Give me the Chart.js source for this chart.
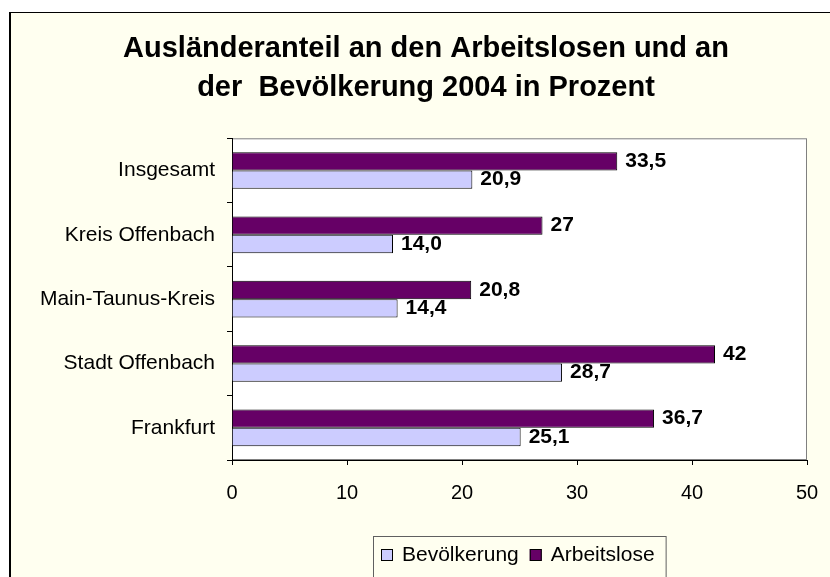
<!DOCTYPE html>
<html>
<head>
<meta charset="utf-8">
<script src="https://cdn.jsdelivr.net/npm/chart.js@4"></script>
<style>
  body { margin: 0; background: #fff; }
  #frame {
    position: absolute; left: 9px; top: 12px; width: 830px; height: 577px;
    border-left: 2px solid #000; border-top: 1px solid #000;
    background: #FFFFF0;
  }
  #chart { position: absolute; left: 0; top: 0; }
</style>
</head>
<body>
<div id="frame"><canvas id="chart" width="819" height="564"></canvas></div>
<script>
const regions = ['Insgesamt', 'Kreis Offenbach', 'Main-Taunus-Kreis', 'Stadt Offenbach', 'Frankfurt'];
const arbeitslose = [33.5, 27, 20.8, 42, 36.7];
const bevoelkerung = [20.9, 14.0, 14.4, 28.7, 25.1];
const bevoelkerungLabels = ['20,9', '14,0', '14,4', '28,7', '25,1'];
const arbeitsloseLabels = ['33,5', '27', '20,8', '42', '36,7'];
const xTicks = [0, 10, 20, 30, 40, 50];

const FONT = 'Arial, "Liberation Sans", sans-serif';

// white plot area with grey frame on top/right
const plotArea = {
    id: 'plotArea',
    afterLayout(chart) {
        // title sits a little right of the canvas centre in the original
        if (chart.titleBlock) { chart.titleBlock.left += 7; chart.titleBlock.right += 7; }
    },
    beforeDraw(chart) {
        const a = chart.chartArea, ctx = chart.ctx;
        ctx.save();
        ctx.fillStyle = '#fff';
        ctx.fillRect(a.left, a.top, a.right - a.left, a.bottom - a.top);
        ctx.strokeStyle = '#808080';
        ctx.lineWidth = 1;
        ctx.strokeRect(a.left + 0.5, a.top + 0.5, a.right - a.left - 1, a.bottom - a.top - 1);
        ctx.restore();
    }
};

// value labels at the end of each bar
const valueLabels = {
    id: 'valueLabels',
    afterDatasetsDraw(chart) {
        const ctx = chart.ctx;
        ctx.save();
        ctx.font = 'bold 21px ' + FONT;
        ctx.fillStyle = '#000';
        ctx.textBaseline = 'middle';
        chart.data.datasets.forEach((ds, i) => {
            chart.getDatasetMeta(i).data.forEach((bar, j) => {
                ctx.fillText(ds.valueLabels[j], bar.x + 8, bar.y);
            });
        });
        ctx.restore();
    }
};

// legend box under the plot (Bevölkerung first)
const boxLegend = {
    id: 'boxLegend',
    afterDraw(chart) {
        const ctx = chart.ctx, a = chart.chartArea;
        const items = [chart.data.datasets[1], chart.data.datasets[0]];
        ctx.save();
        ctx.font = '21px ' + FONT;
        const sq = 12, gapSq = 9, gapItem = 11, pad = 8;
        let w = pad;
        items.forEach(it => { w += sq + gapSq + ctx.measureText(it.label).width + gapItem; });
        const left = Math.round((a.left + a.right) / 2 - w / 2);
        const top = a.bottom + 76;
        ctx.strokeStyle = '#606060';
        ctx.lineWidth = 1;
        ctx.strokeRect(left + 0.5, top + 0.5, w, 80);
        let x = left + pad;
        const cy = top + 19;
        ctx.textBaseline = 'middle';
        items.forEach(it => {
            ctx.fillStyle = it.backgroundColor;
            ctx.fillRect(x, cy - 6, sq, sq);
            ctx.strokeStyle = '#000';
            ctx.strokeRect(x + 0.5, cy - 5.5, sq - 1, sq - 1);
            x += sq + gapSq;
            ctx.fillStyle = '#000';
            ctx.fillText(it.label, x, cy);
            x += ctx.measureText(it.label).width + gapItem;
        });
        ctx.restore();
    }
};

new Chart(document.getElementById('chart'), {
    type: 'bar',
    data: {
        labels: regions,
        datasets: [
            {
                label: 'Arbeitslose',
                data: arbeitslose,
                valueLabels: arbeitsloseLabels,
                backgroundColor: '#660066',
                borderColor: '#000',
                borderWidth: 1,
                barPercentage: 1,
                categoryPercentage: 0.57
            },
            {
                label: 'Bevölkerung',
                data: bevoelkerung,
                valueLabels: bevoelkerungLabels,
                backgroundColor: '#CCCCFF',
                borderColor: '#000',
                borderWidth: 1,
                barPercentage: 1,
                categoryPercentage: 0.57
            }
        ]
    },
    options: {
        indexAxis: 'y',
        responsive: false,
        animation: false,
        devicePixelRatio: 1,
        layout: { padding: { left: 20, right: 23, top: 0, bottom: 72 } },
        scales: {
            x: {
                min: 0,
                max: 50,
                afterBuildTicks: s => { s.ticks = xTicks.map(v => ({ value: v })); },
                afterFit: s => { s.height = 45; s.paddingRight = 0; s.paddingLeft = 0; },
                ticks: { color: '#000', font: { family: FONT, size: 20 }, padding: 16 },
                grid: { drawOnChartArea: false, tickLength: 5, color: '#000' },
                border: { color: '#000', width: 1 }
            },
            y: {
                afterFit: s => { s.width = 201; },
                ticks: { color: '#000', font: { family: FONT, size: 21 }, padding: 12 },
                grid: { offset: true, drawOnChartArea: false, tickLength: 5, color: '#000' },
                border: { color: '#000', width: 1 }
            }
        },
        plugins: {
            title: {
                display: true,
                text: ['Ausländeranteil an den Arbeitslosen und an', 'der  Bevölkerung 2004 in Prozent'],
                color: '#000',
                font: { family: FONT, size: 29, weight: 'bold', lineHeight: 1.35 },
                padding: { top: 16, bottom: 31 }
            },
            legend: { display: false },
            tooltip: { enabled: false }
        }
    },
    plugins: [plotArea, valueLabels, boxLegend]
});
</script>
</body>
</html>
